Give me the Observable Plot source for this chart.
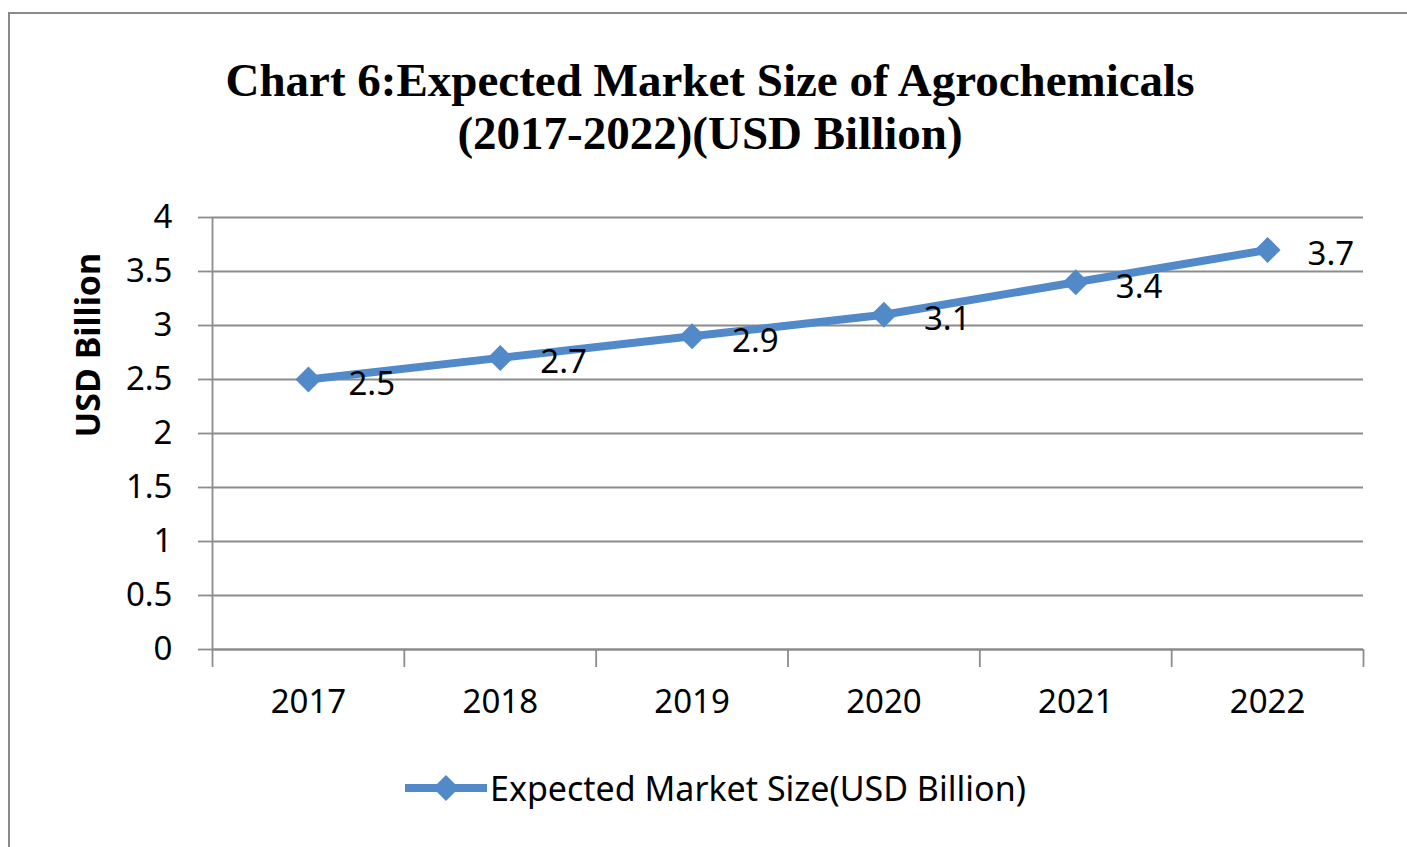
<!DOCTYPE html>
<html>
<head>
<meta charset="utf-8">
<script src="https://cdn.jsdelivr.net/npm/d3@7"></script>
<script src="https://cdn.jsdelivr.net/npm/@observablehq/plot@0.6"></script>
<style>
  body { margin: 0; background: #fff; }
  #frame { position: relative; width: 1407px; height: 847px; overflow: hidden; background: #fff; }
  #border { position: absolute; left: 8px; top: 12px; width: 1420px; height: 860px;
            border-left: 2px solid #8a8a8a; border-top: 2px solid #8a8a8a; }
  #title { position: absolute; left: 0; top: 54px; width: 1420px; text-align: center;
           font-family: "Liberation Serif", serif; font-weight: bold; font-size: 47px; line-height: 53px; color: #000; }
  #chart { position: absolute; left: 0; top: 190px; }
  #legend { position: absolute; left: 405px; top: 768px; height: 40px; display: flex; align-items: center;
            font-family: "Noto Sans", sans-serif; font-size: 34px; color: #000; }
  #legend svg { margin-right: 3px; }
</style>
</head>
<body>
<div id="frame">
  <div id="border"></div>
  <div id="title">Chart 6:Expected Market Size of Agrochemicals<br>(2017-2022)(USD Billion)</div>
  <div id="chart"></div>
  <div id="legend"></div>
</div>
<script>
const years = [2017, 2018, 2019, 2020, 2021, 2022];
const values = [2.5, 2.7, 2.9, 3.1, 3.4, 3.7];
const yTicks = [0, 0.5, 1, 1.5, 2, 2.5, 3, 3.5, 4];
const seriesName = "Expected Market Size(USD Billion)";
const yTitle = "USD Billion";

const blue = "#5289C9";
const gridColor = "#8c8c8c";

const data = years.map((year, i) => ({year, value: values[i]}));
const boundaries = [...years.map(y => y - 0.5), years[years.length - 1] + 0.5];

const chart = Plot.plot({
  width: 1407,
  height: 540,
  marginLeft: 212,
  marginRight: 44,
  marginTop: 27,
  marginBottom: 81,
  x: {domain: [boundaries[0], boundaries[boundaries.length - 1]]},
  y: {domain: [0, 4]},
  style: {fontFamily: "Noto Sans", fontSize: "33px", color: "#000", background: "transparent", overflow: "visible"},
  marks: [
    Plot.gridY(yTicks, {stroke: gridColor, strokeOpacity: 1, strokeWidth: 1.8}),
    Plot.axisY(yTicks, {tickSize: 14, tickPadding: 26, tickFormat: d => String(d), stroke: gridColor, strokeWidth: 1.8, fill: "#000", label: null}),
    Plot.ruleX([boundaries[0]], {stroke: gridColor, strokeWidth: 1.8}),
    Plot.ruleY([0], {stroke: gridColor, strokeWidth: 1.8}),
    Plot.axisX(boundaries, {tickSize: 18, tickFormat: () => "", stroke: gridColor, strokeWidth: 1.8, label: null}),
    Plot.axisX(years, {tickSize: 0, tickPadding: 40, tickFormat: d => String(d), fill: "#000", label: null}),
    Plot.line(data, {x: "year", y: "value", stroke: blue, strokeWidth: 8}),
    Plot.dot(data, {x: "year", y: "value", symbol: "diamond2", r: 11.7, fill: blue, stroke: "none"}),
    Plot.text(data, {x: "year", y: "value", text: d => String(d.value), dx: 40, dy: 5, textAnchor: "start", fill: "#000", fontSize: 33}),
    Plot.text([yTitle], {frameAnchor: "left", rotate: -90, dx: -123, dy: 4, fontWeight: "bold", fontSize: 34, fill: "#000"})
  ]
});
document.getElementById("chart").appendChild(chart);

const legend = document.getElementById("legend");
legend.innerHTML = `<svg width="82" height="40" viewBox="0 0 82 40">
  <line x1="0" y1="20" x2="82" y2="20" stroke="${blue}" stroke-width="8"/>
  <path d="M41,7 L54,20 L41,33 L28,20 Z" fill="${blue}"/>
</svg><span>${seriesName}</span>`;
</script>
</body>
</html>
